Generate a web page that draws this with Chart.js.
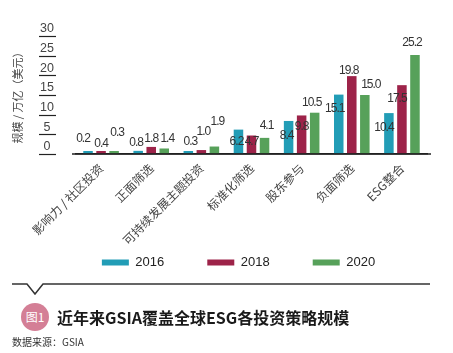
<!DOCTYPE html>
<html><head><meta charset="utf-8">
<script src="https://cdn.jsdelivr.net/npm/chart.js@4.4.0/dist/chart.umd.min.js"></script>
<style>
html,body{margin:0;padding:0;background:#fff;width:453px;height:353px;overflow:hidden;position:relative;font-family:"Noto Sans CJK SC","Liberation Sans",sans-serif;}
#wrap{position:absolute;left:0;top:0;width:477px;height:279px;}
#divider{position:absolute;left:0;top:278px;}
#badge{position:absolute;left:21px;top:303px;width:28px;height:28px;border-radius:50%;background:#d47f96;color:#fff;font-size:12px;line-height:28px;text-align:center;}
#title{position:absolute;left:57px;top:306px;font-size:16px;font-weight:bold;color:#1a1a1a;line-height:22px;white-space:nowrap;}
#source{position:absolute;left:12px;top:334px;font-size:10px;color:#333;line-height:16px;white-space:nowrap;}
</style></head>
<body>
<div id="wrap"><canvas id="c" width="477" height="279"></canvas></div>
<svg id="divider" width="453" height="20"><polyline points="12,6 27,6 35,16 43,6 430,6" fill="none" stroke="#333" stroke-width="1.5"/></svg>
<div id="badge">图1</div>
<div id="title">近年来GSIA覆盖全球ESG各投资策略规模</div>
<div id="source">数据来源：GSIA</div>
<script>
const categories = ['影响力 / 社区投资','正面筛选','可持续发展主题投资','标准化筛选','股东参与','负面筛选','ESG整合'];
const years = ['2016','2018','2020'];
const values2016 = [0.2, 0.8, 0.3, 6.2, 8.4, 15.1, 10.4];
const values2018 = [0.4, 1.8, 1.0, 4.7, 9.8, 19.8, 17.5];
const values2020 = [0.3, 1.4, 1.9, 4.1, 10.5, 15.0, 25.2];
const yTicks = [0, 5, 10, 15, 20, 25, 30];
const yTitle = '规模 / 万亿（美元）';

// label nudges (px, relative to each bar top), kept separate from data
const nudgeDx = [
  [-5, -2, 2, -2, -2, -4, -5],
  [0, 0, 2, 0, 0, -3, -5],
  [3, 3, 3, 2, -3, 6, -3]
];
const nudgeDy = [
  [-15, -8, -11, 12, 15, 14, 15],
  [-9, -8, -18, 6, 11, -5, 14],
  [-20, -10, -25, -12, -10, -10, -12]
];
const colors = ['#229db6', '#9d2349', '#57a15a'];
const seriesValues = [values2016, values2018, values2020];

const valueLabels = {
  id: 'valueLabels',
  afterDatasetsDraw(chart) {
    const ctx = chart.ctx;
    const ys = chart.scales.y;
    ctx.save();
    ctx.font = '12px "Liberation Sans", Arial, sans-serif';
    ctx.fillStyle = '#333';
    ctx.textAlign = 'center';
    ctx.textBaseline = 'middle';
    try { ctx.letterSpacing = '-1px'; } catch (e) {}
    chart.data.datasets.forEach((ds, di) => {
      const meta = chart.getDatasetMeta(di);
      meta.data.forEach((el, i) => {
        const v = ds.data[i];
        const top = ys.getPixelForValue(v);
        ctx.fillText(v.toFixed(1), el.x + nudgeDx[di][i], top + nudgeDy[di][i]);
      });
    });
    ctx.restore();
  }
};

const tickUnderlines = {
  id: 'tickUnderlines',
  beforeDraw(chart) {
    chart.scales.x._computeLabelArea = () => undefined;
    chart.scales.y._computeLabelArea = () => undefined;
  },
  afterDraw(chart) {
    const ys = chart.scales.y;
    const ctx = chart.ctx;
    ctx.save();
    ctx.strokeStyle = '#222';
    ctx.lineWidth = 1.2;
    ys.ticks.forEach(t => {
      const y = Math.round(ys.getPixelForValue(t.value)) + 0.5;
      ctx.beginPath();
      ctx.moveTo(39, y);
      ctx.lineTo(56, y);
      ctx.stroke();
    });
    const xa = chart.chartArea;
    const y0 = ys.getPixelForValue(0);
    ctx.lineWidth = 1.5;
    ctx.beginPath();
    ctx.moveTo(xa.left - 4, y0);
    ctx.lineTo(xa.right + 4, y0);
    ctx.stroke();
    ctx.restore();
  }
};

new Chart(document.getElementById('c'), {
  type: 'bar',
  data: {
    labels: categories,
    datasets: years.map((yr, k) => ({
      label: yr,
      data: seriesValues[k],
      backgroundColor: colors[k],
      borderWidth: 0,
      minBarLength: 3,
      categoryPercentage: 0.78,
      barPercentage: 0.73
    }))
  },
  options: {
    responsive: false,
    devicePixelRatio: 1,
    animation: false,
    layout: { padding: { top: 36, right: 50, left: 50, bottom: 0 } },
    plugins: {
      tooltip: { enabled: false },
      legend: {
        position: 'bottom',
        labels: {
          boxWidth: 27,
          boxHeight: 6,
          padding: 43,
          color: '#222',
          font: { family: '"Liberation Sans", Arial, sans-serif', size: 13 }
        }
      }
    },
    scales: {
      x: {
        grid: { display: true, drawOnChartArea: false, drawTicks: false },
        border: { display: true, color: '#222', width: 1.5 },
        ticks: {
          autoSkip: false,
          minRotation: 45,
          maxRotation: 45,
          padding: 7,
          color: '#444',
          font: { family: '"Noto Sans CJK SC", sans-serif', size: 12 }
        },
        afterFit(s) { s.height = 59; }
      },
      y: {
        min: 0,
        max: 30,
        grid: { display: true, drawOnChartArea: false, drawTicks: false },
        border: { display: false },
        afterBuildTicks(s) { s.ticks = yTicks.map(v => ({ value: v })); },
        ticks: {
          padding: 22,
          crossAlign: 'center',
          labelOffset: -7,
          color: '#444',
          font: { family: '"Liberation Sans", Arial, sans-serif', size: 12.5 }
        },
        title: {
          display: true,
          text: yTitle,
          color: '#444',
          font: { family: '"Noto Sans CJK SC", sans-serif', size: 11 },
          padding: { top: -39, bottom: 0 }
        },
        afterFit(s) { s.width = 26; }
      }
    }
  },
  plugins: [valueLabels, tickUnderlines]
});
</script>
</body></html>
